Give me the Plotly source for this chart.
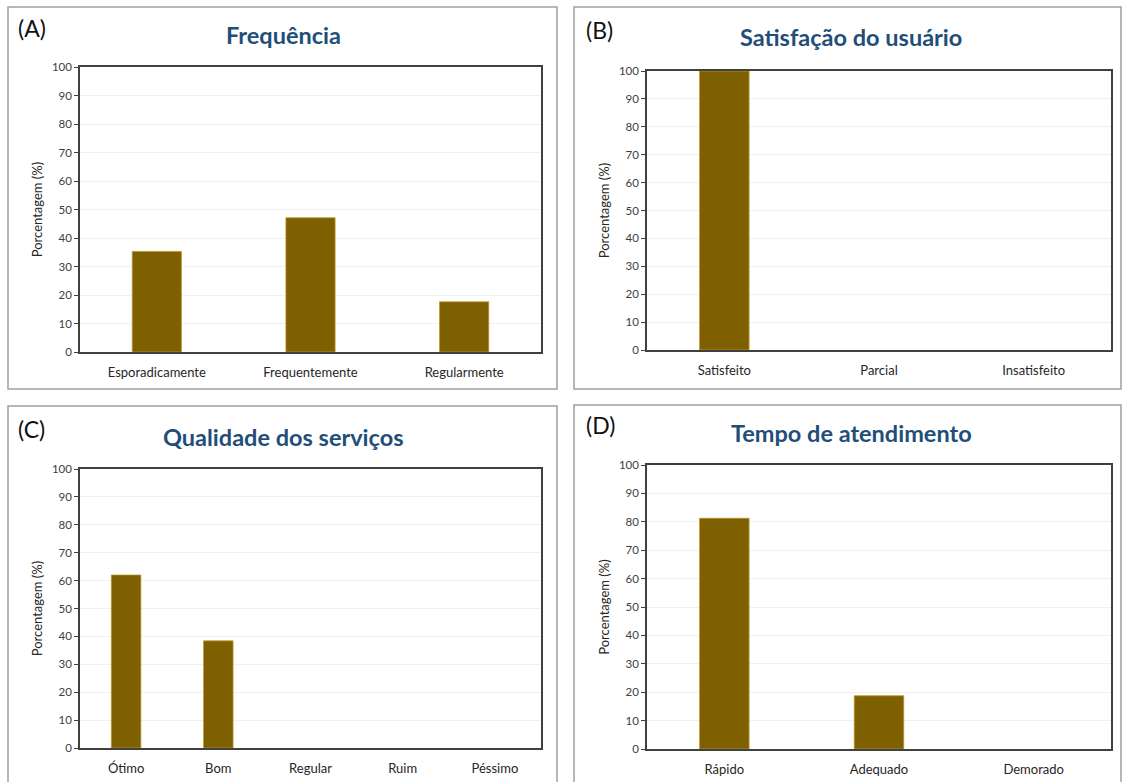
import plotly.graph_objects as go

# Survey results (percent of respondents)
freq_cats = ["Esporadicamente", "Frequentemente", "Regularmente"]
freq_vals = [35.3, 47.1, 17.6]

satis_cats = ["Satisfeito", "Parcial", "Insatisfeito"]
satis_vals = [100, 0, 0]

qual_cats = ["Ótimo", "Bom", "Regular", "Ruim", "Péssimo"]
qual_vals = [62, 38.4, 0, 0, 0]

tempo_cats = ["Rápido", "Adequado", "Demorado"]
tempo_vals = [81.25, 18.75, 0]

titles = ["Frequência", "Satisfação do usuário", "Qualidade dos serviços", "Tempo de atendimento"]
letters = ["(A)", "(B)", "(C)", "(D)"]
y_tick_vals = list(range(0, 101, 10))

W, H = 1125, 782
BAR = "#7F6000"
TITLE_BLUE = "#1F4E79"
FONT = "Lato, 'Open Sans', sans-serif"

# pixel layout of each panel: outer frame, plot area, title, letter
panels = [
    dict(cats=freq_cats, vals=freq_vals, frame=(8, 7, 557, 389), plot=(80, 67, 541, 352),
         title=(283, 35), letter=(16, 28)),
    dict(cats=satis_cats, vals=satis_vals, frame=(574, 7, 1121, 389), plot=(647, 71, 1111, 350),
         title=(851, 37), letter=(584, 30)),
    dict(cats=qual_cats, vals=qual_vals, frame=(8, 406, 557, 800), plot=(80, 469, 541, 748),
         title=(283, 437), letter=(16, 429)),
    dict(cats=tempo_cats, vals=tempo_vals, frame=(574, 405, 1121, 800), plot=(647, 465, 1111, 749),
         title=(851, 433), letter=(584, 425)),
]


def px(x):
    return x / W


def py(y):
    return 1 - y / H


fig = go.Figure()
shapes = []
annotations = []

for i, p in enumerate(panels):
    n = "" if i == 0 else str(i + 1)
    x0, y0, x1, y1 = p["plot"]
    # empty categories get no outline so nothing is drawn on the baseline
    edge_w = [0.8 if v > 0 else 0 for v in p["vals"]]
    fig.add_trace(go.Bar(
        x=p["cats"], y=p["vals"], xaxis="x" + n, yaxis="y" + n,
        marker=dict(color=BAR, line=dict(color="#B8972E", width=edge_w)),
        width=0.32, showlegend=False, hoverinfo="x+y",
    ))
    fig.layout["xaxis" + n] = dict(
        domain=[px(x0), px(x1)], anchor="y" + n, automargin=False,
        showline=True, mirror=True, linecolor="#404040", linewidth=1.5,
        showgrid=False, ticks="", ticklabelstandoff=8,
        tickfont=dict(family=FONT, size=13, color="#262626"),
        fixedrange=True,
    )
    fig.layout["yaxis" + n] = dict(
        domain=[py(y1), py(y0)], anchor="x" + n, range=[0, 100], automargin=False,
        tickvals=y_tick_vals, showline=True, mirror=True, linecolor="#404040", linewidth=1.5,
        ticks="outside", ticklen=4, tickcolor="#404040", tickwidth=1.2,
        showgrid=True, gridcolor="#F0F0F0", gridwidth=1, zeroline=False,
        tickfont=dict(family=FONT, size=11.5, color="#404040"),
        title=dict(text="Porcentagem (%)", font=dict(family=FONT, size=13, color="#262626"), standoff=6),
        fixedrange=True,
    )
    fx0, fy0, fx1, fy1 = p["frame"]
    shapes.append(dict(type="rect", xref="paper", yref="paper",
                       x0=px(fx0), x1=px(fx1), y0=py(fy1), y1=py(fy0),
                       line=dict(color="#A0A0A0", width=1.5), fillcolor="rgba(0,0,0,0)", layer="below"))
    tx, ty = p["title"]
    annotations.append(dict(text="<b>" + titles[i] + "</b>", xref="paper", yref="paper",
                            x=px(tx), y=py(ty), xanchor="center", yanchor="middle", showarrow=False,
                            font=dict(family=FONT, size=23.5, color=TITLE_BLUE)))
    lx, ly = p["letter"]
    annotations.append(dict(text=letters[i], xref="paper", yref="paper",
                            x=px(lx), y=py(ly), xanchor="left", yanchor="middle", showarrow=False,
                            font=dict(family=FONT, size=23, color="#111111")))

fig.update_layout(
    width=W, height=H, margin=dict(l=0, r=0, t=0, b=0, pad=0),
    paper_bgcolor="white", plot_bgcolor="white",
    shapes=shapes, annotations=annotations, bargap=0.68,
)

fig.write_html("out.html", config={"displayModeBar": False})
